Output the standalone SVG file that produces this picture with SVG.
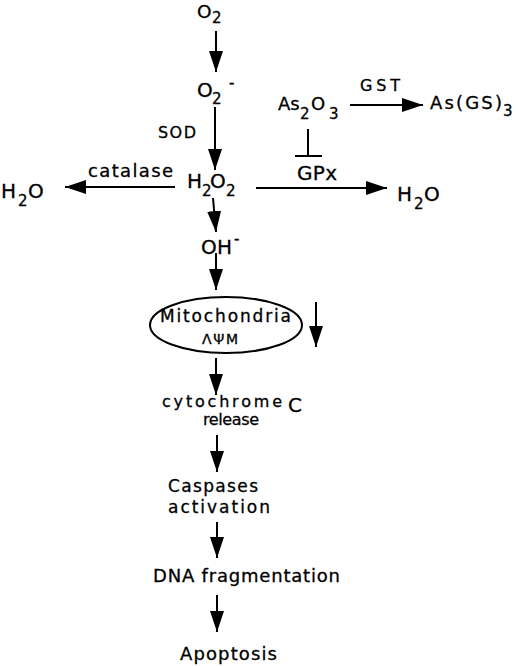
<svg xmlns="http://www.w3.org/2000/svg" width="520" height="666" viewBox="0 0 520 666">
<style>
text{font-family:"DejaVu Sans","Liberation Sans",sans-serif;fill:#000;stroke:#000;stroke-width:0.3;font-size:18px}
.big{font-size:20px}
.sub{font-size:15px}
.lbl{font-size:16px}
.sm{font-size:16px}
.c{stroke:#000;stroke-width:2;fill:none}
.a{marker-end:url(#ah)}
</style>
<defs>
<marker id="ah" markerUnits="userSpaceOnUse" markerWidth="21" markerHeight="14" refX="21" refY="7" orient="auto">
<path d="M0,0 L21,7 L0,14 Z" fill="#000"/>
</marker>
</defs>
<rect width="520" height="666" fill="#fff"/>
<g id="connectors">
<path class="c a" d="M216,31 V72"/>
<path class="c a" d="M215,107 V170"/>
<path class="c a" d="M213,198 L216,232"/>
<path class="c a" d="M175,187 H65"/>
<path class="c a" d="M256,188 H387"/>
<path class="c a" d="M350,105 H423"/>
<path class="c" d="M308,129 V156 M295,156 H322"/>
<path class="c a" d="M216,253 V290"/>
<path class="c a" d="M316,302 V347"/>
<path class="c a" d="M216,358 V395"/>
<path class="c a" d="M217,435 V472"/>
<path class="c a" d="M217,522 V558"/>
<path class="c a" d="M217,595 V632"/>
</g>
<g id="o2"><text style="font-size:18.5px"><tspan x="197" y="18">O</tspan><tspan class="sub" x="212" y="23">2</tspan></text></g>
<g id="superoxide"><text class="big"><tspan x="197" y="97">O</tspan><tspan class="sub" x="212" y="104">2</tspan><tspan class="sub" x="229" y="88">-</tspan></text></g>
<g id="sod"><text class="lbl" x="158" y="138" textLength="38">SOD</text></g>
<g id="h2o2"><text class="big"><tspan x="187" y="188">H</tspan><tspan class="sub" x="202" y="196">2</tspan><tspan x="210" y="188">O</tspan><tspan class="sub" x="226" y="196">2</tspan></text></g>
<g id="oh"><text class="big"><tspan x="201" y="254">O</tspan><tspan x="217" y="254">H</tspan><tspan class="sub" x="234" y="244">-</tspan></text></g>
<g id="catalase"><text x="88" y="177" textLength="85">catalase</text></g>
<g id="h2o-left"><text class="big"><tspan x="1" y="198">H</tspan><tspan class="sub" x="18" y="206">2</tspan><tspan x="28" y="198">O</tspan></text></g>
<g id="as2o3"><text><tspan x="278" y="110">As</tspan><tspan class="sub" x="300" y="119">2</tspan><tspan x="311" y="110">O</tspan><tspan class="sub" x="329" y="119">3</tspan></text></g>
<g id="gst"><text class="lbl" x="360" y="91" textLength="40">GST</text></g>
<g id="asgs3"><text><tspan x="430" y="109" textLength="72">As(GS)</tspan><tspan class="sub" x="503" y="116">3</tspan></text></g>
<g id="gpx"><text x="297" y="180" style="font-size:20px" textLength="40">GPx</text></g>
<g id="h2o-right"><text class="big"><tspan x="397" y="201">H</tspan><tspan class="sub" x="414" y="209">2</tspan><tspan x="424" y="201">O</tspan></text></g>
<g id="mitochondria">
<ellipse cx="226" cy="325" rx="76" ry="28" class="c"/>
<text x="160" y="322" style="font-size:17px" textLength="131">Mitochondria</text>
<text x="202" y="344" style="font-size:14px" textLength="36">ΛΨΜ</text>
</g>
<g id="cytochrome">
<text class="sm" x="162" y="407" textLength="120">cytochrome</text>
<text x="288" y="412" class="big">C</text>
<text class="sm" x="203" y="425" textLength="56">release</text>
</g>
<g id="caspases">
<text x="168" y="492" style="font-size:17px" textLength="90">Caspases</text>
<text x="168" y="513" style="font-size:17px" textLength="102">activation</text>
</g>
<g id="dna"><text x="153" y="582" textLength="187">DNA fragmentation</text></g>
<g id="apoptosis"><text x="180" y="660" textLength="97">Apoptosis</text></g>
</svg>
